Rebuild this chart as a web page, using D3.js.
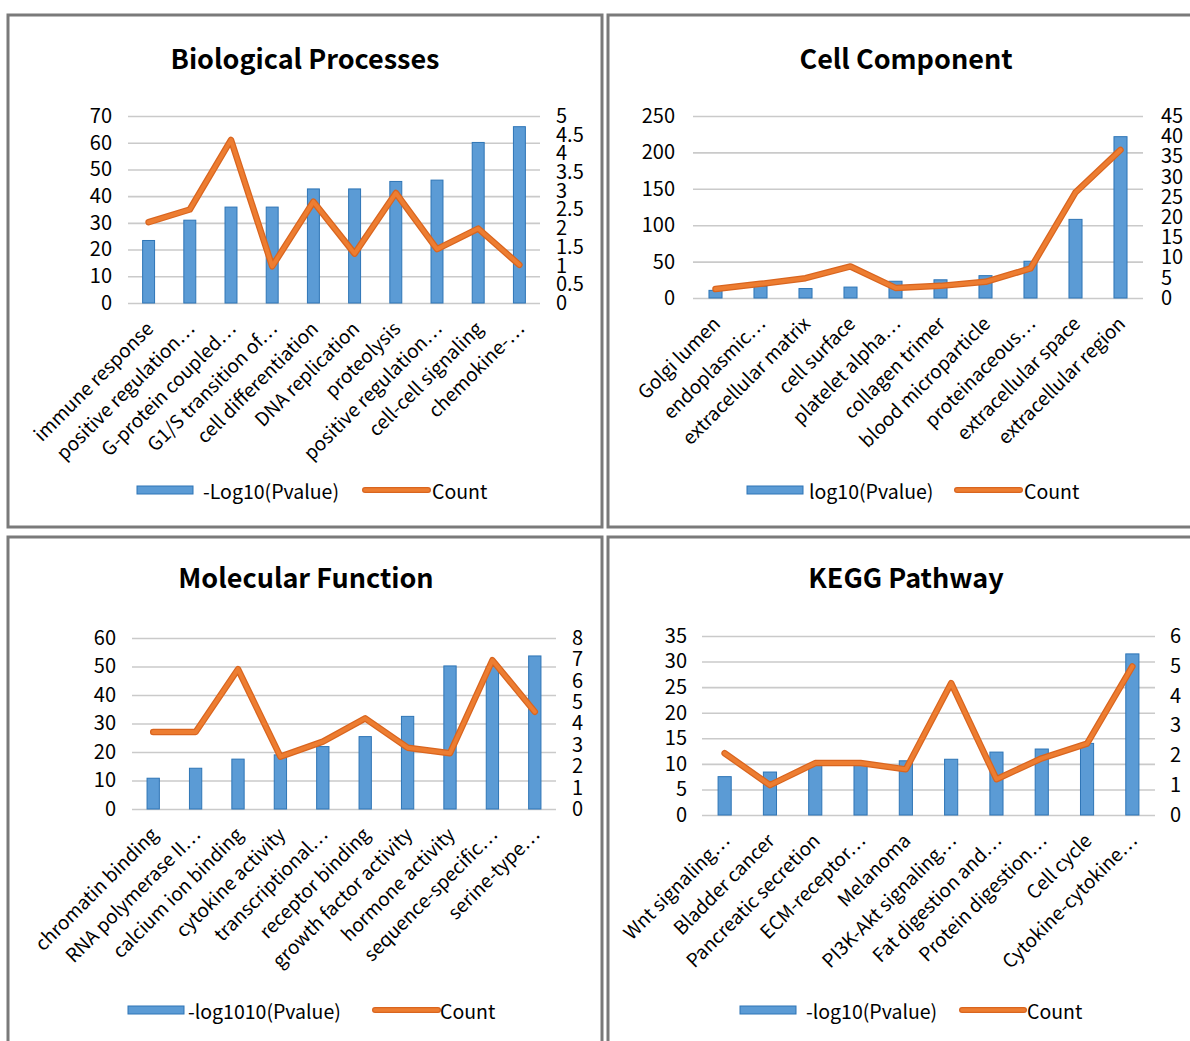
<!DOCTYPE html>
<html><head><meta charset="utf-8">
<script src="https://cdn.jsdelivr.net/npm/d3@7"></script>
<style>
body{margin:0;background:#fff}
svg{display:block}
text{font-family:"Noto Sans CJK SC","Noto Sans",sans-serif;fill:#000}
</style>
</head><body>
<svg id="c" width="1190" height="1041"></svg>
<script>
// ---------- DATA ----------
const bpCategories = ["immune response","positive regulation…","G-protein coupled…","G1/S transition of…","cell differentiation","DNA replication","proteolysis","positive regulation…","cell-cell signaling","chemokine-…"];
const bpPvalue = [23.4, 31.0, 35.9, 35.9, 42.7, 42.7, 45.5, 46.0, 60.1, 66.0];
const bpCount = [2.16, 2.5, 4.36, 0.98, 2.71, 1.32, 2.94, 1.44, 1.99, 1.02];
const bpLeftTicks = [0,10,20,30,40,50,60,70];
const bpRightTicks = [0,0.5,1,1.5,2,2.5,3,3.5,4,4.5,5];

const ccCategories = ["Golgi lumen","endoplasmic…","extracellular matrix","cell surface","platelet alpha…","collagen trimer","blood microparticle","proteinaceous…","extracellular space","extracellular region"];
const ccPvalue = [10.5, 16, 13, 15, 23, 25, 30.7, 50.5, 108, 221.6];
const ccCount = [2.2, 3.5, 4.9, 7.8, 2.5, 3.0, 4.0, 7.3, 26.1, 36.6];
const ccLeftTicks = [0,50,100,150,200,250];
const ccRightTicks = [0,5,10,15,20,25,30,35,40,45];

const mfCategories = ["chromatin binding","RNA polymerase II…","calcium ion binding","cytokine activity","transcriptional…","receptor binding","growth factor activity","hormone activity","sequence-specific…","serine-type…"];
const mfPvalue = [10.8, 14.3, 17.5, 19.0, 21.9, 25.4, 32.5, 50.2, 50.0, 53.7];
const mfCount = [3.6, 3.6, 6.54, 2.45, 3.15, 4.24, 2.87, 2.61, 6.96, 4.55];
const mfLeftTicks = [0,10,20,30,40,50,60];
const mfRightTicks = [0,1,2,3,4,5,6,7,8];

const kgCategories = ["Wnt signaling…","Bladder cancer","Pancreatic secretion","ECM-receptor…","Melanoma","PI3K-Akt signaling…","Fat digestion and…","Protein digestion…","Cell cycle","Cytokine-cytokine…"];
const kgPvalue = [7.5, 8.4, 10.0, 9.9, 10.6, 10.9, 12.3, 12.9, 14.0, 31.5];
const kgCount = [2.07, 1.0, 1.74, 1.74, 1.53, 4.42, 1.2, 1.9, 2.39, 4.98];
const kgLeftTicks = [0,5,10,15,20,25,30,35];
const kgRightTicks = [0,1,2,3,4,5,6];

const titles = ["Biological Processes","Cell Component","Molecular Function","KEGG Pathway"];
const barLegends = ["-Log10(Pvalue)","log10(Pvalue)","-log1010(Pvalue)","-log10(Pvalue)"];
const lineLegend = "Count";

// ---------- LAYOUT (styling only) ----------
const layouts = [
  {frame:[8,15,594,512], plot:{x0:128,x1:540,top:116,bottom:303}, lx:112, rx:556, tx:305, ty:69,
   lg:{rx:137,rw:56,tx:203,l1:365,l2:428,cx:432,y:490}},
  {frame:[608,15,600,512], plot:{x0:693,x1:1143,top:116,bottom:298}, lx:675, rx:1161, tx:906, ty:69,
   lg:{rx:747,rw:56,tx:809,l1:957,l2:1020,cx:1024,y:490}},
  {frame:[8,537,594,520], plot:{x0:132,x1:556,top:638,bottom:809}, lx:116, rx:572, tx:306, ty:588,
   lg:{rx:128,rw:56,tx:188,l1:375,l2:438,cx:440,y:1010}},
  {frame:[608,537,600,520], plot:{x0:702,x1:1155,top:636,bottom:815}, lx:687, rx:1170, tx:906, ty:588,
   lg:{rx:740,rw:56,tx:806,l1:962,l2:1024,cx:1027,y:1010}}
];

const panels = [
  {cats:bpCategories, bars:bpPvalue, line:bpCount, lt:bpLeftTicks, rt:bpRightTicks},
  {cats:ccCategories, bars:ccPvalue, line:ccCount, lt:ccLeftTicks, rt:ccRightTicks},
  {cats:mfCategories, bars:mfPvalue, line:mfCount, lt:mfLeftTicks, rt:mfRightTicks},
  {cats:kgCategories, bars:kgPvalue, line:kgCount, lt:kgLeftTicks, rt:kgRightTicks}
];

const BAR_FILL = "#5B9BD5", BAR_STROKE = "#2E75B6";
const LINE_DARK = "#D9651F", LINE = "#ED7D31";
const GRID = "#CACACA";
const FONT = '"Noto Sans CJK SC","Noto Sans",sans-serif';

const svg = d3.select("#c");

panels.forEach((p, i) => {
  const L = layouts[i];
  const g = svg.append("g");
  g.append("rect").attr("x",L.frame[0]).attr("y",L.frame[1]).attr("width",L.frame[2]).attr("height",L.frame[3])
    .attr("fill","none").attr("stroke","#7a7a7a").attr("stroke-width",3);
  g.append("text").attr("x",L.tx).attr("y",L.ty).attr("text-anchor","middle")
    .style("font-size","27px").style("font-weight","bold").text(titles[i]);

  const pl = L.plot;
  const x = d3.scaleBand().domain(d3.range(p.cats.length)).range([pl.x0, pl.x1]).padding(0);
  const yL = d3.scaleLinear().domain([0, d3.max(p.lt)]).range([pl.bottom, pl.top]);
  const yR = d3.scaleLinear().domain([0, d3.max(p.rt)]).range([pl.bottom, pl.top]);
  const w = pl.x1 - pl.x0;

  const ax = g.append("g").attr("transform",`translate(${pl.x0},0)`)
    .call(d3.axisLeft(yL).tickValues(p.lt).tickSize(-w).tickPadding(pl.x0 - L.lx).tickFormat(d3.format("")));
  ax.select(".domain").remove();
  ax.selectAll(".tick line").attr("stroke",GRID).attr("stroke-width",1.6);
  ax.selectAll(".tick text").style("font-size","20px").style("font-family",FONT).attr("fill","#000");

  const ar = g.append("g").attr("transform",`translate(${pl.x1},0)`)
    .call(d3.axisRight(yR).tickValues(p.rt).tickSize(0).tickPadding(L.rx - pl.x1).tickFormat(d3.format("")));
  ar.select(".domain").remove();
  ar.selectAll(".tick text").style("font-size","20px").style("font-family",FONT).attr("fill","#000");

  const bw = x.bandwidth()*0.29;
  g.append("g").selectAll("rect").data(p.bars).join("rect")
    .attr("x",(d,j)=>x(j)+x.bandwidth()/2 - bw/2)
    .attr("y",d=>yL(d)).attr("width",bw).attr("height",d=>yL(0)-yL(d))
    .attr("fill",BAR_FILL).attr("stroke",BAR_STROKE).attr("stroke-width",1);

  const line = d3.line().x((d,j)=>x(j)+x.bandwidth()/2).y(d=>yR(d));
  g.append("path").datum(p.line).attr("d",line).attr("fill","none")
    .attr("stroke",LINE_DARK).attr("stroke-width",6.5).attr("stroke-linejoin","round").attr("stroke-linecap","round");
  g.append("path").datum(p.line).attr("d",line).attr("fill","none")
    .attr("stroke",LINE).attr("stroke-width",4).attr("stroke-linejoin","round").attr("stroke-linecap","round");

  const ab = g.append("g").attr("transform",`translate(0,${pl.bottom})`)
    .call(d3.axisBottom(x).tickSize(0).tickFormat(j=>p.cats[j]));
  ab.select(".domain").remove();
  ab.selectAll(".tick text")
    .attr("x",0).attr("y",0).attr("dy",0)
    .attr("text-anchor","end")
    .attr("transform","translate(6,27) rotate(-45)")
    .style("font-size","19px").style("font-family",FONT).attr("fill","#000");

  const lg = L.lg;
  g.append("rect").attr("x",lg.rx).attr("y",lg.y-4).attr("width",lg.rw).attr("height",8)
    .attr("fill",BAR_FILL).attr("stroke",BAR_STROKE).attr("stroke-width",1);
  g.append("text").attr("x",lg.tx).attr("y",lg.y).attr("dominant-baseline","central")
    .style("font-size","19.5px").text(barLegends[i]);
  g.append("line").attr("x1",lg.l1).attr("x2",lg.l2).attr("y1",lg.y).attr("y2",lg.y)
    .attr("stroke",LINE_DARK).attr("stroke-width",6).attr("stroke-linecap","round");
  g.append("line").attr("x1",lg.l1).attr("x2",lg.l2).attr("y1",lg.y).attr("y2",lg.y)
    .attr("stroke",LINE).attr("stroke-width",3.5).attr("stroke-linecap","round");
  g.append("text").attr("x",lg.cx).attr("y",lg.y).attr("dominant-baseline","central")
    .style("font-size","19.5px").text(lineLegend);
});
</script>
</body></html>
